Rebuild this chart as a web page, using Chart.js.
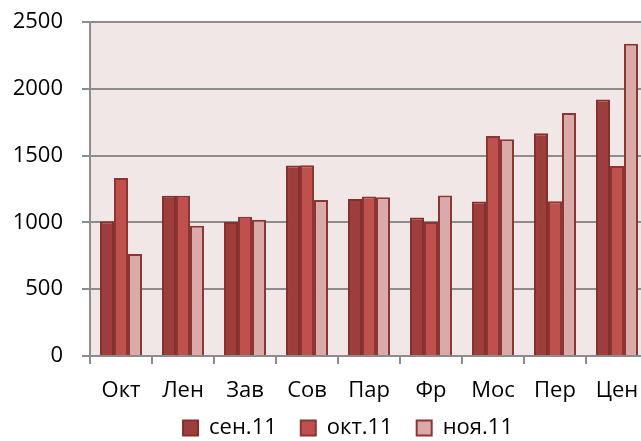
<!DOCTYPE html>
<html>
<head>
<meta charset="utf-8">
<script src="https://cdn.jsdelivr.net/npm/chart.js@4.4.1/dist/chart.umd.min.js"></script>
<style>
    html, body { margin: 0; padding: 0; background: #fff; overflow: hidden; }
    #wrap { width: 696px; height: 441px; }
</style>
</head>
<body>
<div id="wrap"><canvas id="barChart"></canvas></div>
<script>
// данные
const categories = ['Окт', 'Лен', 'Зав', 'Сов', 'Пар', 'Фр', 'Мос', 'Пер', 'Цен'];
const seriesNames = ['сен.11', 'окт.11', 'ноя.11'];
const sepValues = [1008, 1200, 1003, 1425, 1176, 1036, 1156, 1668, 1919];
const octValues = [1332, 1200, 1043, 1428, 1193, 1003, 1646, 1158, 1423];
const novValues = [763, 975, 1020, 1168, 1188, 1201, 1622, 1819, 2337];
const yTicks = [0, 500, 1000, 1500, 2000, 2500];

const fontName = '"Open Sans", "DejaVu Sans", sans-serif';

// plot area fill
const plotBg = {
    id: 'plotBg',
    beforeDraw: function (chart) {
        const a = chart.chartArea;
        const c = chart.ctx;
        c.save();
        c.fillStyle = '#f2e7e7';
        c.fillRect(a.left, a.top, a.right - a.left, a.bottom - a.top);
        c.restore();
    }
};

// move legend up a bit and center it on the whole canvas
const legendShift = {
    id: 'legendShift',
    afterLayout: function (chart) {
        const lg = chart.legend;
        if (!lg) return;
        lg.top -= 17;
        lg.bottom -= 17;
        lg.left += 24;
        lg.right += 24;
    }
};

const ctx = document.getElementById('barChart').getContext('2d');
new Chart(ctx, {
    type: 'bar',
    data: {
        labels: categories,
        datasets: [{
            label: seriesNames[0],
            data: sepValues,
            backgroundColor: '#9d3e3c',
            borderColor: '#86302e',
            borderWidth: 2
        }, {
            label: seriesNames[1],
            data: octValues,
            backgroundColor: '#c0504d',
            borderColor: '#8c3532',
            borderWidth: 2
        }, {
            label: seriesNames[2],
            data: novValues,
            backgroundColor: '#daaaa9',
            borderColor: '#8c3532',
            borderWidth: 2
        }]
    },
    options: {
        responsive: true,
        maintainAspectRatio: false,
        animation: false,
        datasets: {
            bar: {
                categoryPercentage: 0.677,
                barPercentage: 1.0
            }
        },
        layout: {
            padding: { top: 22, right: 48, bottom: -25, left: 0 }
        },
        plugins: {
            tooltip: { enabled: false },
            legend: {
                position: 'bottom',
                labels: {
                    boxWidth: 15,
                    boxHeight: 15,
                    padding: 24,
                    color: '#000',
                    font: { family: fontName, size: 22 }
                }
            }
        },
        scales: {
            x: {
                grid: {
                    offset: true,
                    drawOnChartArea: false,
                    color: '#8c8c8c',
                    lineWidth: 2,
                    tickLength: 8
                },
                border: { color: '#8c8c8c', width: 2 },
                ticks: {
                    color: '#000',
                    padding: 14,
                    maxRotation: 0,
                    autoSkip: false,
                    font: { family: fontName, size: 22 }
                },
                afterFit: function (scale) {
                    scale.height = 54;
                }
            },
            y: {
                min: 0,
                max: 2500,
                afterBuildTicks: function (scale) {
                    scale.ticks = yTicks.map(v => ({ value: v }));
                },
                grid: {
                    color: '#8c8c8c',
                    lineWidth: 2,
                    tickLength: 8
                },
                border: { color: '#8c8c8c', width: 2 },
                ticks: {
                    color: '#000',
                    padding: 19,
                    font: { family: fontName, size: 22 },
                    callback: function (value) {
                        return String(value);
                    }
                },
                afterFit: function (scale) {
                    scale.width = 90;
                    scale.paddingTop = 13;
                    scale.paddingBottom = 13;
                }
            }
        }
    },
    plugins: [plotBg, legendShift]
});
</script>
</body>
</html>
